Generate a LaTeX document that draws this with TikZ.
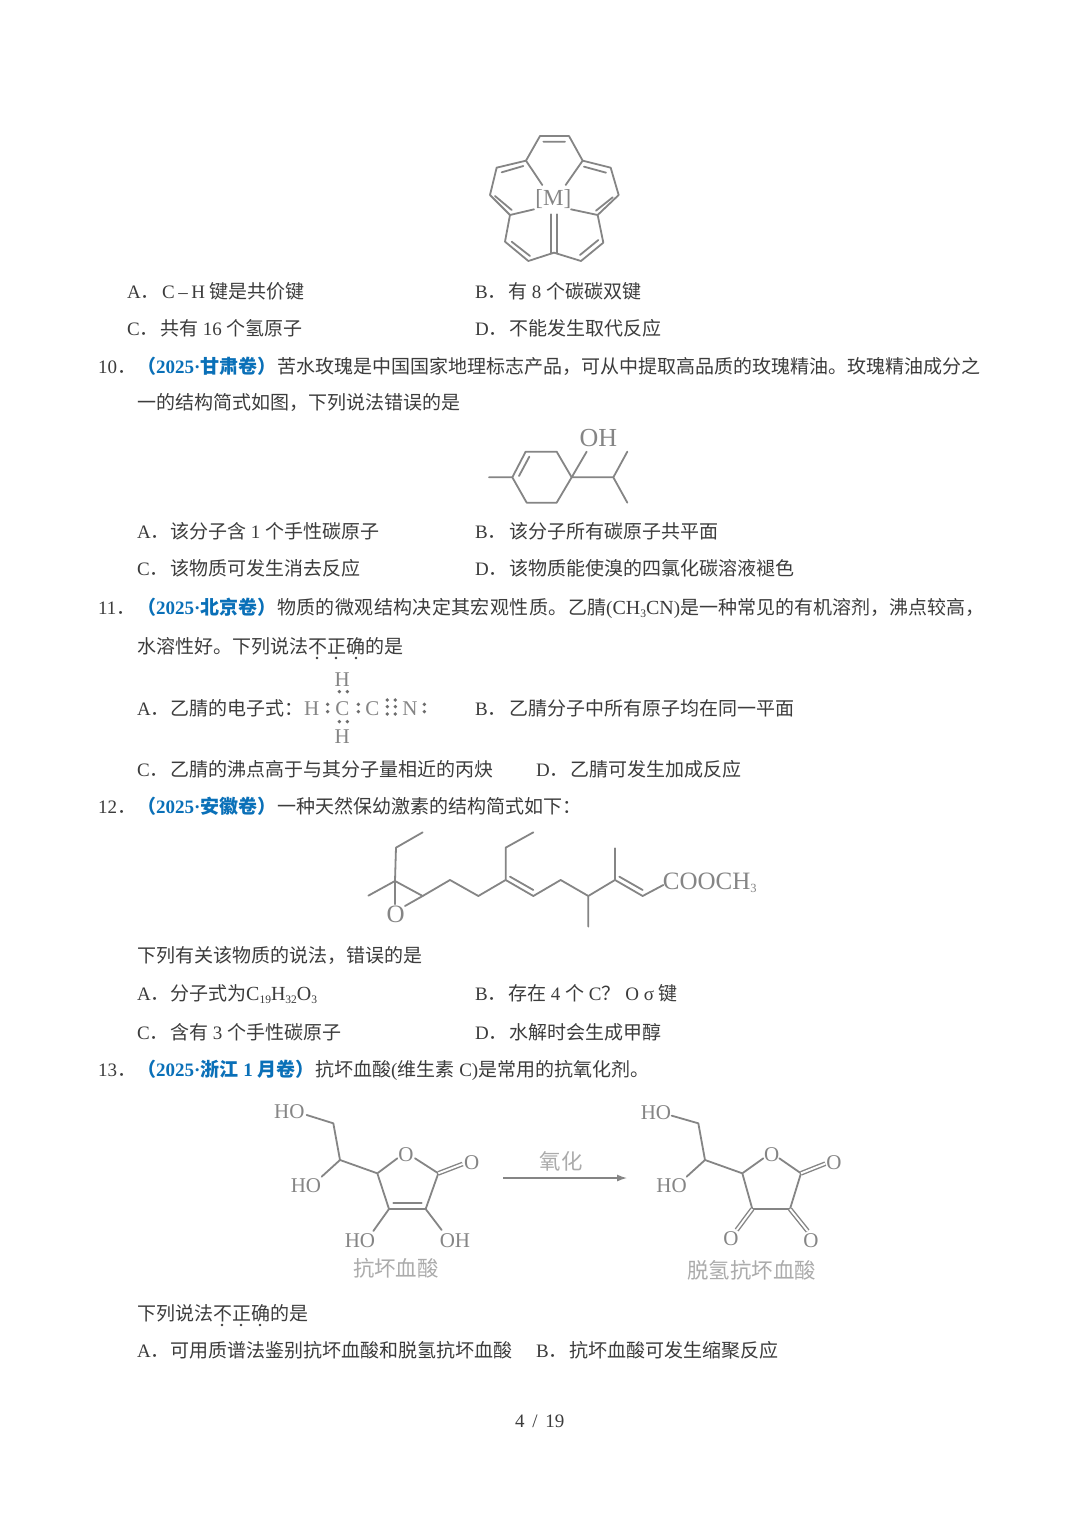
\documentclass[tikz,border=0pt]{standalone}
\usepackage{fontspec}
\setmainfont{Liberation Serif}
\newfontfamily\cjk{Noto Sans CJK SC}
\usetikzlibrary{arrows.meta}
\definecolor{ink}{HTML}{3C3C3C}
\definecolor{blueq}{HTML}{0A70B8}
\definecolor{bondc}{HTML}{858585}
\definecolor{labc}{HTML}{858585}
\definecolor{capc}{HTML}{ABABAB}
\newcommand\Z[1]{{\cjk #1}}
\newcommand\Sb[1]{\raisebox{-3.5pt}{\fontsize{11.5}{12}\selectfont #1}}
\newcommand\SbL[1]{\raisebox{-3.5pt}{\fontsize{12.5}{13}\selectfont #1}}
\newcommand\Fm[1]{{\fontsize{20}{20}\selectfont #1}}
\newcount\tc
\newcommand\T[3]{\global\advance\tc 1 \node[txt] (t\the\tc) at (#1,#2) {#3};}
\newcommand\Bl[1]{{\color{blueq}\bfseries #1}}
\tikzset{
  txt/.style={anchor=base west,inner sep=0pt,text=ink,font=\fontsize{19}{19}\selectfont},
  bond/.style={draw=bondc,line width=1.8pt,line join=round,line cap=round},
  dbond/.style={draw=bondc,line width=1.4pt,double=white,double distance=1.9pt},
  atomsm/.style={inner sep=0.5pt,text=labc,font=\fontsize{21}{21}\selectfont},
  atomlg/.style={inner sep=0.5pt,text=labc,font=\fontsize{25}{25}\selectfont},
  captxt/.style={inner sep=0pt,text=capc,font=\fontsize{21.4}{21.4}\selectfont\cjk},
  zoomed/.style={x=0.33333pt,y=-0.33333pt},
  dotk/.style={fill=ink!75,draw=none},
  em/.style={fill=ink,draw=none}
}
\begin{document}
\begin{tikzpicture}[x=1pt,y=-1pt]
\useasboundingbox (0,0) rectangle (1080,1527);
\fill[white] (0,0) rectangle (1080,1527);
% Q9 options
\T{127}{298}{A\Z{．}}
\T{162}{298}{C\hspace{3.5pt}–\hspace{3.5pt}H\hspace{4.5pt}\Z{键是共价键}}
\T{475}{298}{B\Z{．}}
\T{508}{298}{\Z{有} 8 \Z{个碳碳双键}}
\T{127}{335}{C\Z{．}}
\T{160}{335}{\Z{共有} 16 \Z{个氢原子}}
\T{475}{335}{D\Z{．}}
\T{509}{335}{\Z{不能发生取代反应}}
% Q10
\T{98}{373}{10\Z{．}}
\T{137}{373}{\Bl{\Z{（}2025·\Z{甘肃卷）}}}
\T{277}{373}{\Z{苦水玫瑰是中国国家地理标志产品，可从中提取高品质的玫瑰精油。玫瑰精油成分之}}
\T{137}{409}{\Z{一的结构简式如图，下列说法错误的是}}
\T{137}{538}{A\Z{．}}
\T{170}{538}{\Z{该分子含} 1 \Z{个手性碳原子}}
\T{475}{538}{B\Z{．}}
\T{509}{538}{\Z{该分子所有碳原子共平面}}
\T{137}{575}{C\Z{．}}
\T{170}{575}{\Z{该物质可发生消去反应}}
\T{475}{575}{D\Z{．}}
\T{509}{575}{\Z{该物质能使溴的四氯化碳溶液褪色}}
% Q11
\T{98}{614}{11\Z{．}}
\T{137}{614}{\Bl{\Z{（}2025·\Z{北京卷）}}}
\T{277}{614}{{\cjk\addfontfeature{LetterSpace=2}物质的微观结构决定其宏观性质。}}
\T{568}{614}{\Z{乙腈}(\Fm{CH\Sb{3}CN})}
\T{680}{614}{\Z{是一种常见的有机溶剂，沸点较高，}}
\T{137}{653}{\Z{水溶性好。下列说法不正确的是}}
\T{137}{715}{A\Z{．}}
\T{170}{715}{\Z{乙腈的电子式：}}
\T{475}{715}{B\Z{．}}
\T{509}{715}{\Z{乙腈分子中所有原子均在同一平面}}
\T{137}{776}{C\Z{．}}
\T{170}{776}{\Z{乙腈的沸点高于与其分子量相近的丙炔}}
\T{536}{776}{D\Z{．}}
\T{570}{776}{\Z{乙腈可发生加成反应}}
% Q12
\T{98}{813}{12\Z{．}}
\T{137}{813}{\Bl{\Z{（}2025·\Z{安徽卷）}}}
\T{277}{813}{\Z{一种天然保幼激素的结构简式如下：}}
\T{137}{962}{\Z{下列有关该物质的说法，错误的是}}
\T{137}{1000}{A\Z{．}}
\T{170}{1000}{\Z{分子式为}\Fm{C\Sb{19}H\Sb{32}O\Sb{3}}}
\T{475}{1000}{B\Z{．}}
\T{508}{1000}{\Z{存在} 4 \Z{个} C\Z{？} O σ \Z{键}}
\T{137}{1039}{C\Z{．}}
\T{170}{1039}{\Z{含有} 3 \Z{个手性碳原子}}
\T{475}{1039}{D\Z{．}}
\T{509}{1039}{\Z{水解时会生成甲醇}}
% Q13
\T{98}{1076}{13\Z{．}}
\T{137}{1076}{\Bl{\Z{（}2025·\Z{浙江} 1 \Z{月卷）}}}
\T{315}{1076}{\Z{抗坏血酸}(\Z{维生素} C)\Z{是常用的抗氧化剂。}}
\T{137}{1320}{\Z{下列说法不正确的是}}
\T{137}{1357}{A\Z{．}}
\T{170}{1357}{\Z{可用质谱法鉴别抗坏血酸和脱氢抗坏血酸}}
\T{536}{1357}{B\Z{．}}
\T{569}{1357}{\Z{抗坏血酸可发生缩聚反应}}
\T{515}{1427}{4\hspace{3pt} / \hspace{3pt}19}
% emphasis dots
\foreach \x in {317,336,356} \fill[em] (\x,658) circle (1.3);
\foreach \x in {222,241,260} \fill[em] (\x,1325) circle (1.3);

% Molecule 1
\begin{scope}[zoomed,shift={(1410,360)}]
\node[atomlg,font=\fontsize{23}{23}\selectfont] (M) at (250,238) {[M]};
\foreach \n/\x/\y in {a/210/48,b/297/48,c/338/122,d/422/143,e/446/225,f/383/285,g/400/368,h/333/423,i/252/398,j/175/423,k/105/365,l/120/285,m/60/225,n/80/143,o/168/122,
 mo/217/195,mc/287/195,mf/303/268,ml/192/268}
  \coordinate (p\n) at (\x,\y);
\draw[bond] (pa)--(pb)--(pc)--(pd)--(pe)--(pf)--(pg)--(ph)--(pi)--(pj)--(pk)--(pl)--(pm)--(pn)--(po)--cycle;
\draw[bond] (po)--(pmo) (pc)--(pmc) (pf)--(pmf) (pl)--(pml);
\draw[bond] (220,65)--(285,65) (342,140)--(408,158) (378,272)--(428,232) (385,360)--(330,405)
 (125,365)--(180,408) (75,228)--(125,270) (95,157)--(160,138) (243,283)--(243,398) (261,283)--(261,398);
\end{scope}

% Molecule 2
\begin{scope}[zoomed,shift={(1410,1260)}]
\node[atomlg,font=\fontsize{26}{26}\selectfont] (oh2) at (385,55) {OH};
\foreach \n/\x/\y in {me/57/172,a/127/172,b/167/95,c/260/95,d/305/172,e/260/248,f/170/248,g/430/172,h/472/95,i/472/248,o/350/95}
  \coordinate (q\n) at (\x,\y);
\draw[bond] (qme)--(qa)--(qb)--(qc)--(qd)--(qe)--(qf)--(qa);
\draw[bond] (qd)--(qo) (qd)--(qg)--(qh) (qg)--(qi) (147,168)--(178,110);
\end{scope}

% Lewis structure
\begin{scope}[zoomed,shift={(870,1980)}]
\node[atomsm] (lh1) at (157,60) {H};
\node[atomsm] (lh2) at (65,145) {H};
\node[atomsm] (lc1) at (157,145) {C};
\node[atomsm] (lc2) at (247,145) {C};
\node[atomsm] (ln) at (360,145) {N};
\node[atomsm] (lh3) at (157,230) {H};
\foreach \x/\y in {113/133,113/155,148/95,172/95,148/185,172/185,205/133,205/155,292/120,316/120,292/140,316/140,292/162,316/162,403/133,403/155}
  \fill[dotk] (\x,\y) circle (5.6);
\end{scope}

% Molecule 4
\begin{scope}[zoomed,shift={(1080,2475)}]
\node[atomlg] (o4) at (107,268) {O};
\node[atomlg,anchor=west,inner sep=0pt] (coo) at (908,174) {COOCH\SbL{3}};
\foreach \n/\x/\y in {a/188/22,b/108/68,c/105/168,d/25/212,e/188/213,f/270/165,g/355/213,h/437/165,i/437/68,j/520/22,k/520/213,l/602/165,m/685/213,n/765/165,p/685/305,q/765/70,r/848/213,o1/105/238,o2/135/243,cc/910/180}
  \coordinate (r\n) at (\x,\y);
\draw[bond] (ra)--(rb)--(rc)--(rd) (rc)--(re)--(rf)--(rg)--(rh)--(ri)--(rj) (rh)--(rk)--(rl)--(rm)--(rn)--(rr)--(rcc) (rm)--(rp) (rn)--(rq);
\draw[bond] (rc)--(ro1) (re)--(ro2);
\draw[bond] (450,155)--(520,195) (778,155)--(848,195);
\end{scope}

% Molecule 5
\begin{scope}[zoomed,shift={(780,3285)}]
\node[atomsm] (h1) at (88,50) {HO};
\node[atomsm] (h2) at (138,272) {HO};
\node[atomsm] (o1) at (438,178) {O};
\node[atomsm] (o2) at (635,203) {O};
\node[atomsm] (h3) at (300,438) {HO};
\node[atomsm] (h4) at (585,438) {OH};
\node[captxt] (c5) at (408,520) {抗坏血酸};
\foreach \n/\x/\y in {a/220/85,b/240/195,c/352/235,d/535/235,e/497/342,f/387/342,h1/140/60,h2/185/245,o1/412/190,o2/465/190,h3/340/408,h4/545/405,o3/608/207}
  \coordinate (s\n) at (\x,\y);
\draw[bond] (sh1)--(sa)--(sb)--(sh2) (sb)--(sc)--(so1) (so2)--(sd)--(se)--(sf)--(sc) (sf)--(sh3) (se)--(sh4);
\draw[bond] (400,325)--(485,325);
\draw[dbond] (sd)--(so3);
\end{scope}

% Arrow
\coordinate (ar1) at (503,1178);
\coordinate (ar2) at (627,1178);
\draw[draw=bondc,line width=1.3pt,-{Latex[length=10pt,width=7pt]}] (ar1)--(ar2);
\node[captxt] (cap2) at (561,1161) {氧化};

% Molecule 6
\begin{scope}[zoomed,shift={(1860,3285)}]
\node[atomsm] (v1) at (108,52) {HO};
\node[atomsm] (v2) at (155,272) {HO};
\node[atomsm] (w1) at (455,178) {O};
\node[atomsm] (w2) at (642,203) {O};
\node[atomsm] (w3) at (333,432) {O};
\node[atomsm] (w4) at (573,437) {O};
\node[captxt] (c6) at (395,527) {脱氢抗坏血酸};
\foreach \n/\x/\y in {a/235/85,b/255/195,c/367/235,d/543/235,e/510/342,f/397/342,h1/155/62,h2/200/245,o1/430/190,o2/478/190,o3/616/206,o4/350/405,o5/563/408}
  \coordinate (u\n) at (\x,\y);
\draw[bond] (uh1)--(ua)--(ub)--(uh2) (ub)--(uc)--(uo1) (uo2)--(ud)--(ue)--(uf)--(uc);
\draw[dbond] (ud)--(uo3) (uf)--(uo4) (ue)--(uo5);
\end{scope}
\end{tikzpicture}
\end{document}
